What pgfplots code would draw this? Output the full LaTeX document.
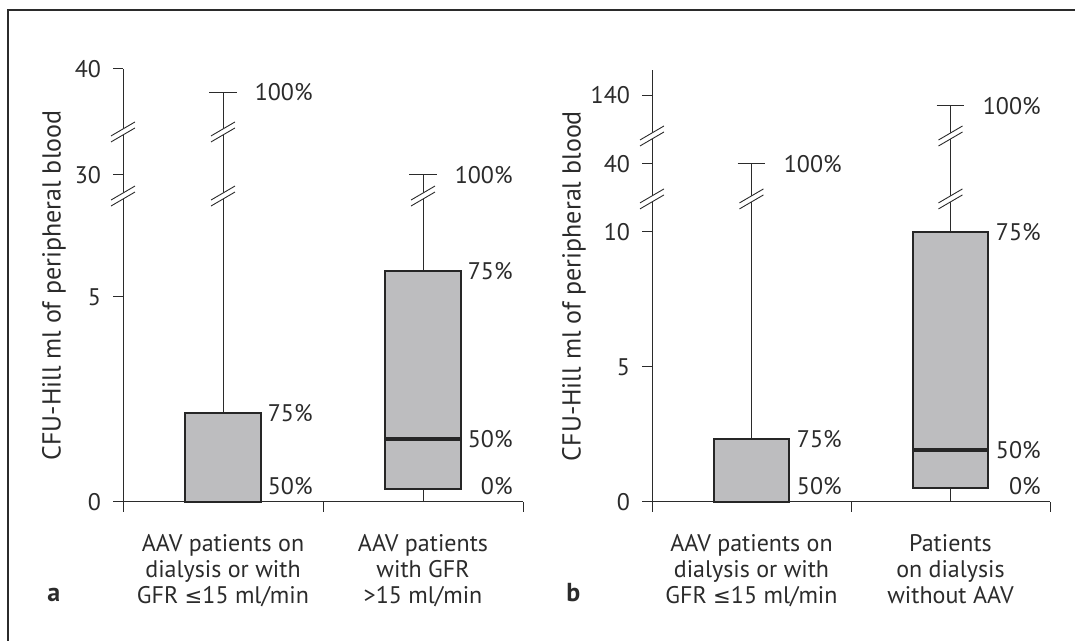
\documentclass[border=0pt]{standalone}
\usepackage{fontspec}
\setmainfont{PT Sans}
\newfontfamily\dejavu[Scale=0.88]{DejaVu Sans}
\usepackage{pgfplots}
\pgfplotsset{compat=1.18}

\definecolor{ink}{HTML}{2B2B2B}
\definecolor{boxfill}{HTML}{BDBDBF}
\definecolor{boxline}{HTML}{262626}

% broken-axis transformations (value -> display units, 1 unit = 1 px)
\pgfplotsset{
  trafoA/.style={y coord trafo/.code={%
      \begingroup\pgfkeys{/pgf/fpu=true,/pgf/fpu/output format=fixed}%
      \pgfmathparse{(##1<=7) ? 41*##1 : ((##1<=30) ? 287+1.739*(##1-7) : 327+10.6*(##1-30))}%
      \xdef\trafores{\pgfmathresult}\endgroup
      \let\pgfmathresult\trafores}},
  trafoB/.style={y coord trafo/.code={%
      \begingroup\pgfkeys{/pgf/fpu=true,/pgf/fpu/output format=fixed}%
      \pgfmathparse{(##1<=10) ? 27*##1 : ((##1<=40) ? 270+2.2667*(##1-10) : 338+0.685*(##1-40))}%
      \xdef\trafores{\pgfmathresult}\endgroup
      \let\pgfmathresult\trafores}},
  panel/.style={
    x=100pt, y=0.5pt, xmin=0, xmax=2, ymin=0,
    clip=false,
    axis x line=bottom, axis y line=left,
    axis line style={ink, line width=0.5pt, -},
    tick align=outside, major tick length=5pt,
    tick style={ink, line width=0.5pt},
    xtick={0,1,2}, xticklabels={},
    extra x ticks={0.5,1.5},
    extra x tick style={major tick length=0pt,
      xticklabel style={align=center, yshift=-12.6pt}},
    tick label style={font=\fontsize{12}{13}\selectfont, text=ink},
    yticklabel style={xshift=-2.5pt},
    ylabel style={font=\fontsize{13}{15}\selectfont, text=ink, anchor=center},
  },
}
\tikzset{
  whisk/.style={ink, line width=0.5pt},
  box/.style={fill=boxfill, draw=boxline, line width=1pt},
  med/.style={boxline, line width=2pt},
  pct/.style={anchor=east, font=\fontsize{12}{13}\selectfont, text=ink, inner sep=0pt},
}
\newcommand{\brk}[1]{%
  \fill[white] (#1) ++(-6pt,-5pt) -- ++(12pt,7pt) -- ++(0pt,3pt) -- ++(-12pt,-7pt) -- cycle;
  \draw[ink, line width=0.45pt] (#1) ++(-6pt,-5pt) -- ++(12pt,7pt);
  \draw[ink, line width=0.45pt] (#1) ++(-6pt,-2pt) -- ++(12pt,7pt);}

\begin{document}
\begin{tikzpicture}
\path[use as bounding box] (0pt,0pt) rectangle (537.5pt,320.5pt);
\draw[ink, line width=1pt] (4pt,0pt) -- (4pt,315.5pt) -- (537.5pt,315.5pt);

% ---------------- panel a ----------------
\begin{axis}[panel, trafoA,
  at={(61.5pt,69.5pt)}, anchor=south west,
  ymax=40,
  ytick={0,5,30,40}, yticklabels={0,5,30,40},
  extra x tick labels={{AAV patients on\\dialysis or with\\GFR {\dejavu ≤}15 ml/min},{AAV patients\\with GFR\\>15 ml/min}},
  ylabel={CFU-Hill ml of peripheral blood},
  ylabel style={at={(axis description cs:-0.1725,0.5)}},
]
% box 1: 50% = 0, 75% = 2.17, 100% = 37.8
\addplot[whisk] coordinates {(0.5,2.17) (0.5,37.8)};
\addplot[whisk] coordinates {(0.43,37.8) (0.57,37.8)};
\addplot[box] coordinates {(0.31,0) (0.69,0) (0.69,2.17) (0.31,2.17)} --cycle;
% box 2: 0% = 0.32, 50% = 1.54, 75% = 5.63, 100% = 30
\addplot[whisk] coordinates {(1.5,0) (1.5,0.32)};
\addplot[whisk] coordinates {(1.5,5.63) (1.5,30)};
\addplot[whisk] coordinates {(1.43,30) (1.57,30)};
\addplot[box] coordinates {(1.31,0.32) (1.69,0.32) (1.69,5.63) (1.31,5.63)} --cycle;
\addplot[med] coordinates {(1.31,1.54) (1.69,1.54)};
\node[pct] at (axis cs:0.95,37.8) {100\%};
\node[pct] at (axis cs:0.95,2.17) {75\%};
\node[pct, yshift=8pt] at (axis cs:0.95,0) {50\%};
\node[pct] at (axis cs:1.95,30) {100\%};
\node[pct] at (axis cs:1.95,5.63) {75\%};
\node[pct] at (axis cs:1.95,1.54) {50\%};
\node[pct, yshift=1.5pt] at (axis cs:1.95,0.32) {0\%};
\coordinate (aA1) at (axis cs:0,17.9);
\coordinate (aA2) at (axis cs:0,34.06);
\coordinate (aW1) at (axis cs:0.5,17.9);
\coordinate (aW2) at (axis cs:0.5,34.06);
\coordinate (aW3) at (axis cs:1.5,17.9);
\end{axis}

% ---------------- panel b ----------------
\begin{axis}[panel, trafoB, x=99.5pt,
  at={(326pt,69.5pt)}, anchor=south west,
  ymax=177,
  ytick={0,5,10,40,140}, yticklabels={0,5,10,40,140},
  extra x tick labels={{AAV patients on\\dialysis or with\\GFR {\dejavu ≤}15 ml/min},{Patients\\on dialysis\\without AAV}},
  ylabel={CFU-Hill ml of peripheral blood},
  ylabel style={at={(axis description cs:-0.196,0.5)}},
]
% box 1: 50% = 0, 75% = 2.33, 100% = 40
\addplot[whisk] coordinates {(0.5,2.33) (0.5,40)};
\addplot[whisk] coordinates {(0.43,40) (0.57,40)};
\addplot[box] coordinates {(0.31,0) (0.69,0) (0.69,2.33) (0.31,2.33)} --cycle;
% box 2: 0% = 0.52, 50% = 1.93, 75% = 10, 100% = 125
\addplot[whisk] coordinates {(1.5,0) (1.5,0.52)};
\addplot[whisk] coordinates {(1.5,10) (1.5,125)};
\addplot[whisk] coordinates {(1.43,125) (1.57,125)};
\addplot[box] coordinates {(1.31,0.52) (1.69,0.52) (1.69,10) (1.31,10)} --cycle;
\addplot[med] coordinates {(1.31,1.93) (1.69,1.93)};
\node[pct] at (axis cs:0.955,40) {100\%};
\node[pct] at (axis cs:0.955,2.33) {75\%};
\node[pct, yshift=8pt] at (axis cs:0.955,0) {50\%};
\node[pct] at (axis cs:1.955,125) {100\%};
\node[pct] at (axis cs:1.955,10) {75\%};
\node[pct] at (axis cs:1.955,1.93) {50\%};
\node[pct, yshift=1pt] at (axis cs:1.955,0.52) {0\%};
\coordinate (bA1) at (axis cs:0,24.6);
\coordinate (bA2) at (axis cs:0,80.9);
\coordinate (bW1) at (axis cs:0.5,24.6);
\coordinate (bW2) at (axis cs:1.5,24.6);
\coordinate (bW3) at (axis cs:1.5,80.9);
\end{axis}

\foreach \c in {aA1,aA2,aW1,aW2,aW3,bA1,bA2,bW1,bW2,bW3} {\brk{\c}}

\node[anchor=base west, inner sep=0pt, font=\fontsize{13}{15}\selectfont\bfseries, text=ink] at (23.5pt,19.5pt) {a};
\node[anchor=base west, inner sep=0pt, font=\fontsize{13}{15}\selectfont\bfseries, text=ink] at (283pt,19.5pt) {b};
\end{tikzpicture}
\end{document}
